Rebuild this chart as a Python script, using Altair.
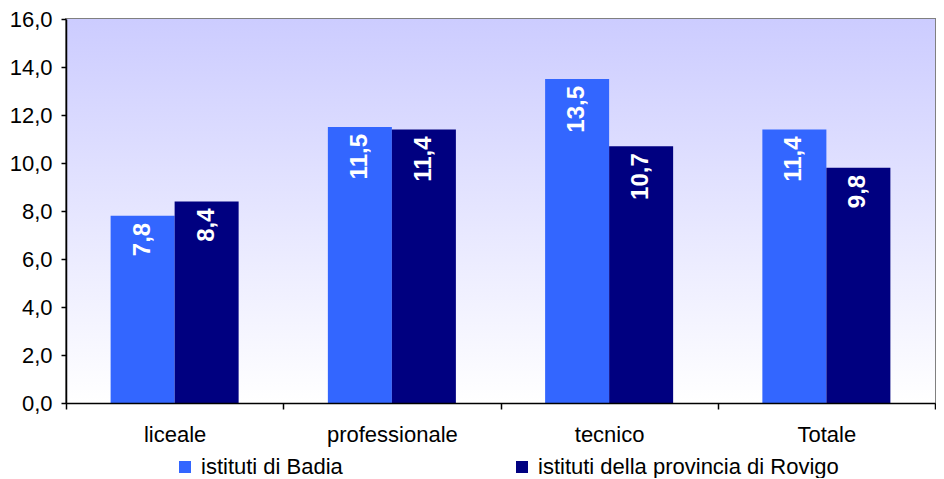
import altair as alt
import pandas as pd

categories = ["liceale", "professionale", "tecnico", "Totale"]
series = ["istituti di Badia", "istituti della provincia di Rovigo"]
badia = [7.8, 11.5, 13.5, 11.4]
rovigo = [8.4, 11.4, 10.7, 9.8]
colors = ["#3366FF", "#000080"]
y_ticks = [0, 2, 4, 6, 8, 10, 12, 14, 16]

rows = []
for c, b, r in zip(categories, badia, rovigo):
    rows.append({"cat": c, "serie": series[0], "val": b})
    rows.append({"cat": c, "serie": series[1], "val": r})
df = pd.DataFrame(rows)

W, H = 869, 384
FONT = "Liberation Sans"

grad = alt.LinearGradient(
    gradient="linear", x1=0, y1=0, x2=0, y2=1,
    stops=[alt.GradientStop(offset=0, color="#ccccff"),
           alt.GradientStop(offset=1, color="#ffffff")],
)

bg = alt.Chart(alt.Data(values=[{}])).mark_rect(color=grad).encode(
    x=alt.value(0), x2=alt.value("width"), y=alt.value(0), y2=alt.value("height")
)

x_enc = alt.X(
    "cat:N", sort=categories,
    scale=alt.Scale(paddingInner=0, paddingOuter=0),
    axis=alt.Axis(title=None, labelAngle=0, tickBand="extent", labelFont=FONT,
                  labelFontSize=22, labelColor="black", domainColor="black",
                  tickColor="black", tickSize=6, labelPadding=15, zindex=1,
                  domainWidth=1.5, tickWidth=1.5),
)
xoff_enc = alt.XOffset("serie:N", sort=series,
                       scale=alt.Scale(paddingInner=0, paddingOuter=0.697))
y_enc = alt.Y(
    "val:Q", scale=alt.Scale(domain=[0, 16], nice=False),
    axis=alt.Axis(title=None, values=y_ticks, grid=False,
                  labelExpr="replace(format(datum.value, '.1f'), '.', ',')",
                  labelFont=FONT, labelFontSize=22, labelColor="black",
                  domainColor="black", tickColor="black", tickSize=5,
                  labelPadding=9, zindex=1, domainWidth=1.5, tickWidth=1.5),
)

bars = alt.Chart(df).mark_bar(opacity=1).encode(
    x=x_enc, xOffset=xoff_enc, y=y_enc,
    color=alt.Color(
        "serie:N", sort=series,
        scale=alt.Scale(domain=series, range=colors),
        legend=alt.Legend(orient="none", legendX=108, legendY=437,
                          direction="horizontal", columns=2, columnPadding=168,
                          symbolType="square", symbolSize=144,
                          symbolStrokeWidth=0, symbolOpacity=1,
                          labelFontSize=22, labelFont=FONT, labelColor="black",
                          labelOffset=5, title=None, labelLimit=400),
    ),
)

texts = alt.Chart(df).transform_calculate(
    lab="replace(format(datum.val, '.1f'), '.', ',')"
).mark_text(angle=270, align="right", baseline="middle", dx=-7, color="white",
            fontWeight="bold", fontSize=24, font=FONT).encode(
    x=alt.X("cat:N", sort=categories), xOffset=alt.XOffset("serie:N", sort=series),
    y="val:Q", text="lab:N",
)

chart = alt.layer(bg, bars, texts).properties(
    width=W, height=H,
    padding={"left": 1, "top": 0, "right": 0, "bottom": 0},
).configure_view(stroke="#808080", strokeWidth=2)

chart.save("out.html", embed_options={"renderer": "svg", "actions": False})
